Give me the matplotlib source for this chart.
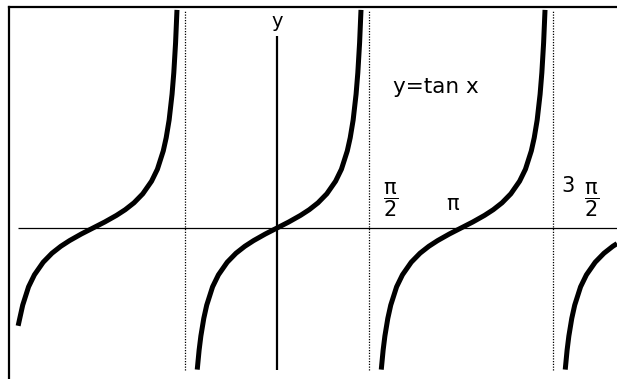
import matplotlib
matplotlib.use("Agg")
import matplotlib.pyplot as plt

plt.rcParams["mathtext.default"] = "regular"

# ---- data (x in radians, y = tan x values) ----
branch_m1_x = [-4.420, -4.392, -4.342, -4.242, -4.142, -3.992, -3.842, -3.692, -3.542, -3.342,
               -3.142, -2.942, -2.742, -2.592, -2.442, -2.292, -2.142, -2.042, -1.942, -1.892,
               -1.842, -1.792, -1.762, -1.732, -1.708]
branch_m1_y = [-3.26, -3.01, -2.57, -1.96, -1.56, -1.14, -0.84, -0.61, -0.42, -0.20,
               0.00, 0.20, 0.42, 0.61, 0.84, 1.14, 1.56, 1.96, 2.57, 3.01,
               3.60, 4.46, 5.18, 6.17, 7.27]

branch_0_x = [-1.362, -1.330, -1.300, -1.250, -1.200, -1.100, -1.000, -0.850, -0.700, -0.550,
              -0.400, -0.200, 0.000, 0.200, 0.400, 0.550, 0.700, 0.850, 1.000, 1.100,
              1.200, 1.250, 1.300, 1.350, 1.380, 1.410, 1.434]
branch_0_y = [-4.72, -4.07, -3.60, -3.01, -2.57, -1.96, -1.56, -1.14, -0.84, -0.61,
              -0.42, -0.20, 0.00, 0.20, 0.42, 0.61, 0.84, 1.14, 1.56, 1.96,
              2.57, 3.01, 3.60, 4.46, 5.18, 6.17, 7.27]

branch_1_x = [1.780, 1.812, 1.842, 1.892, 1.942, 2.042, 2.142, 2.292, 2.442, 2.592,
              2.742, 2.942, 3.142, 3.342, 3.542, 3.692, 3.842, 3.992, 4.142, 4.242,
              4.342, 4.392, 4.442, 4.492, 4.522, 4.552, 4.576]
branch_1_y = [-4.72, -4.07, -3.60, -3.01, -2.57, -1.96, -1.56, -1.14, -0.84, -0.61,
              -0.42, -0.20, 0.00, 0.20, 0.42, 0.61, 0.84, 1.14, 1.56, 1.96,
              2.57, 3.01, 3.60, 4.46, 5.18, 6.17, 7.27]

branch_2_x = [4.921, 4.953, 4.983, 5.033, 5.083, 5.183, 5.283, 5.433, 5.583, 5.733, 5.805]
branch_2_y = [-4.72, -4.07, -3.60, -3.01, -2.57, -1.96, -1.56, -1.14, -0.84, -0.61, -0.52]

asymptotes = [-1.5708, 1.5708, 4.7124]

# ---- figure ----
W, H = 617, 379
fig = plt.figure(figsize=(W / 100, H / 100), dpi=100)
fig.patch.set_facecolor("white")

ax = fig.add_axes([9 / W, 0.0, (W - 9) / W, (H - 7) / H])
ax.set_xlim(-4.576, 5.805)
ax.set_ylim(-5.033, 7.367)
for side in ("right", "bottom"):
    ax.spines[side].set_visible(False)
for side in ("top", "left"):
    ax.spines[side].set_linewidth(1.6)
    ax.spines[side].set_color("black")
ax.set_xticks([])
ax.set_yticks([])

# coordinate axes
ax.plot([-4.42, 5.805], [0, 0], color="black", lw=0.9, solid_capstyle="butt")
ax.plot([0, 0], [-4.73, 6.40], color="black", lw=1.6, solid_capstyle="butt")

# asymptotes
for a in asymptotes:
    ax.plot([a, a], [-4.73, 7.27], color="black", lw=0.9, ls=(0, (1.0, 1.2)))

# tan branches
for bx, by in ((branch_m1_x, branch_m1_y), (branch_0_x, branch_0_y),
               (branch_1_x, branch_1_y), (branch_2_x, branch_2_y)):
    ax.plot(bx, by, color="black", lw=3.6, solid_capstyle="butt", solid_joinstyle="miter")

# labels
ax.text(0.0, 6.87, "y", ha="center", va="center", fontsize=14)
ax.text(1.98, 4.5, "y=tan x", ha="left", va="baseline", fontsize=15.5)
ax.text(1.946, 0.93, r"$\dfrac{\pi}{2}$", ha="center", va="center", fontsize=15)
ax.text(3.005, 0.80, "π", ha="center", va="center", fontsize=15)
ax.text(4.968, 1.40, "3", ha="center", va="center", fontsize=15)
ax.text(5.378, 0.93, r"$\dfrac{\pi}{2}$", ha="center", va="center", fontsize=15)

fig.savefig("out.png", dpi=100, facecolor="white")
